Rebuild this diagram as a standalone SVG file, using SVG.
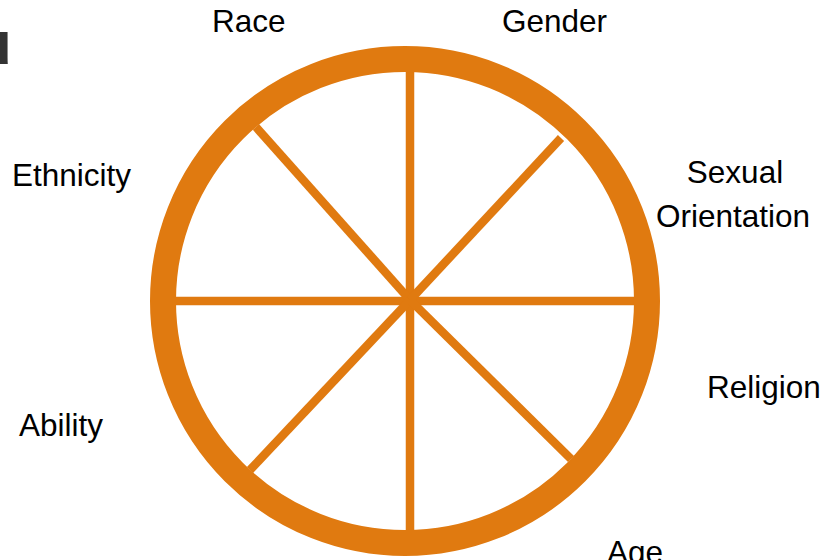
<svg xmlns="http://www.w3.org/2000/svg" width="838" height="560" viewBox="0 0 838 560">
<style>
.lbl{font-family:"Liberation Sans",Arial,sans-serif;font-size:31.5px;fill:#000}
.spoke{stroke:#E07A10;stroke-width:8.5;fill:none}
</style>
<rect width="838" height="560" fill="#fff"/>
<text x="-26" y="64" font-family="Liberation Sans,Arial,sans-serif" font-weight="bold" font-size="62" fill="#333">u</text>
<g id="connectors">
<line class="spoke" x1="410" y1="72" x2="410" y2="530"/>
<line class="spoke" x1="175" y1="301" x2="636" y2="301"/>
<line class="spoke" x1="256" y1="127" x2="410" y2="300"/>
<line class="spoke" x1="561" y1="138" x2="410" y2="300"/>
<line class="spoke" x1="250" y1="470" x2="410" y2="300"/>
<line class="spoke" x1="571" y1="459" x2="410" y2="300"/>
</g>
<g id="wheel">
<circle cx="405" cy="301" r="242" fill="none" stroke="#E07A10" stroke-width="26"/>
</g>
<g id="race"><text class="lbl" x="212" y="32">Race</text></g>
<g id="gender"><text class="lbl" x="502" y="32">Gender</text></g>
<g id="ethnicity"><text class="lbl" x="12" y="186">Ethnicity</text></g>
<g id="sexual-orientation"><text class="lbl" x="735" y="183" text-anchor="middle">Sexual</text><text class="lbl" x="733" y="227" text-anchor="middle">Orientation</text></g>
<g id="religion"><text class="lbl" x="707" y="398">Religion</text></g>
<g id="ability"><text class="lbl" x="19" y="436">Ability</text></g>
<g id="age"><text class="lbl" x="607" y="563">Age</text></g>
</svg>
